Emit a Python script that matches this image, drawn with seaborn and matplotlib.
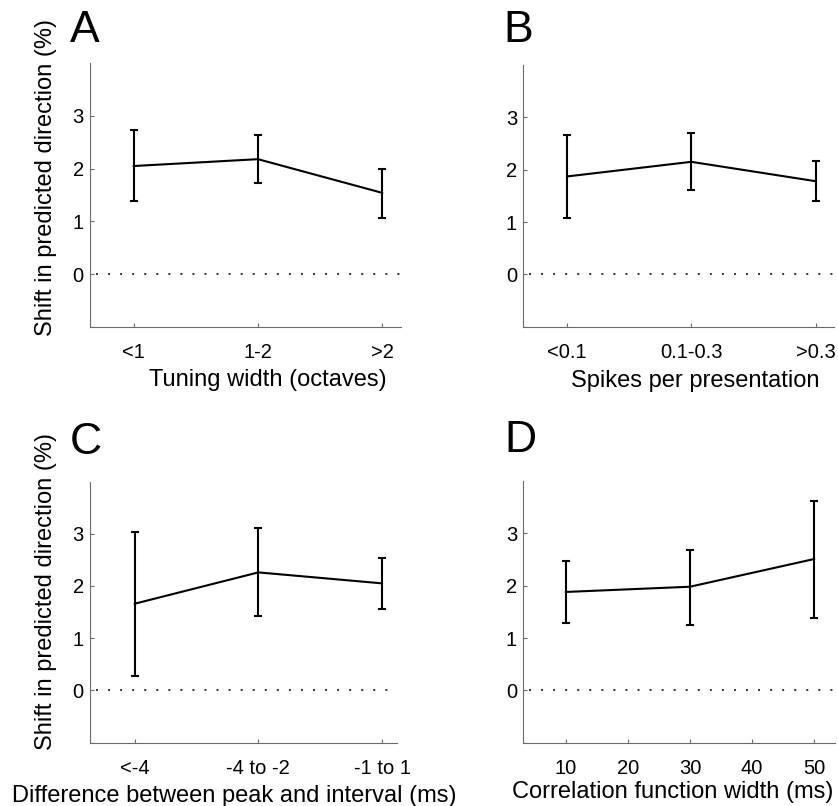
import numpy as np
import matplotlib
matplotlib.use("Agg")
import matplotlib.pyplot as plt
import seaborn as sns

# ---------------- data ----------------
a_cats = ["<1", "1-2", ">2"]
a_mean = [2.05, 2.18, 1.54]
a_low = [1.38, 1.72, 1.07]
a_high = [2.73, 2.63, 2.00]

b_cats = ["<0.1", "0.1-0.3", ">0.3"]
b_mean = [1.87, 2.15, 1.78]
b_low = [1.08, 1.61, 1.40]
b_high = [2.66, 2.71, 2.16]

c_cats = ["<-4", "-4 to -2", "-1 to 1"]
c_mean = [1.66, 2.26, 2.05]
c_low = [0.28, 1.42, 1.55]
c_high = [3.03, 3.11, 2.54]

d_x = [10, 30, 50]
d_mean = [1.88, 1.98, 2.51]
d_low = [1.28, 1.25, 1.39]
d_high = [2.47, 2.68, 3.62]
d_ticks = [10, 20, 30, 40, 50]

y_ticks = [0, 1, 2, 3]

ylabel_text = "Shift in predicted direction (%)"
xlabels = ["Tuning width (octaves)", "Spikes per presentation",
           "Difference between peak and interval (ms)",
           "Correlation function width (ms)"]
letters = ["A", "B", "C", "D"]

# ---------------- style ----------------
sns.set_theme(style="ticks")
plt.rcParams["font.family"] = ["Liberation Sans", "DejaVu Sans"]
plt.rcParams["axes.unicode_minus"] = False

W, H = 838, 806
fig = plt.figure(figsize=(W / 100, H / 100), dpi=100)
fig.patch.set_facecolor("white")


def px_axes(left, right, top, bottom):
    return fig.add_axes([left / W, 1 - bottom / H, (right - left) / W, (bottom - top) / H])


SPINE = "#6a6a6a"


def draw(ax, x, mean, low, high, xnum, xlim, xticks, xticklabels, xlabel,
         xlab_coords, ylabel=None, ylab_coords=None):
    sns.lineplot(x=x, y=mean, ax=ax, color="black", lw=1.5, errorbar=None,
                 sort=False)
    mean_a = np.asarray(mean)
    yerr = [mean_a - np.asarray(low), np.asarray(high) - mean_a]
    ax.errorbar(xnum, mean_a, yerr=yerr, fmt="none", ecolor="black",
                elinewidth=1.5, capsize=2.6, capthick=1.5)
    ax.axhline(0, color="#333333", lw=1.4, ls=(3.1, (1.0, 5.2)), zorder=0)
    ax.set_xlim(*xlim)
    ax.set_ylim(-1, 4)
    ax.set_yticks(y_ticks)
    ax.set_yticklabels([str(v) for v in y_ticks])
    ax.set_xticks(xticks)
    ax.set_xticklabels(xticklabels)
    for s in ["top", "right"]:
        ax.spines[s].set_visible(False)
    for s in ["left", "bottom"]:
        ax.spines[s].set_color(SPINE)
        ax.spines[s].set_linewidth(0.8)
    ax.tick_params(axis="both", direction="in", length=3, width=0.8,
                   color=SPINE, labelcolor="black", labelsize=14.5)
    ax.tick_params(axis="x", pad=12)
    ax.tick_params(axis="y", pad=4.5)
    ax.set_xlabel(xlabel, fontsize=17, color="black")
    ax.xaxis.set_label_coords(*xlab_coords)
    if ylabel:
        ax.set_ylabel(ylabel, fontsize=17, color="black")
        ax.yaxis.set_label_coords(*ylab_coords)
    else:
        ax.set_ylabel("")
    ax.set_facecolor("white")


axA = px_axes(90, 401, 63.3, 326.7)
axB = px_axes(523.3, 834.3, 65, 326.7)
axC = px_axes(90, 397, 481.5, 742.7)
axD = px_axes(523.3, 835, 481, 742.7)

draw(axA, a_cats, a_mean, a_low, a_high, np.arange(3), (-0.35, 2.15),
     np.arange(3), a_cats, xlabels[0], (0.571, -0.161),
     ylabel_text, (-0.106, 0.565))
draw(axB, b_cats, b_mean, b_low, b_high, np.arange(3), (-0.35, 2.15),
     np.arange(3), b_cats, xlabels[1], (0.552, -0.164))
draw(axC, c_cats, c_mean, c_low, c_high, np.arange(3), (-0.36, 2.12),
     np.arange(3), c_cats, xlabels[2], (0.471, -0.162),
     ylabel_text, (-0.106, 0.579))
draw(axD, d_x, d_mean, d_low, d_high, np.asarray(d_x), (3.18, 53.33),
     d_ticks, [str(t) for t in d_ticks], xlabels[3], (0.479, -0.145))

# panel letters (x, baseline in pixels)
letter_pos = [(70, 41.7), (503, 41.7), (69.5, 454), (504, 452)]
for letter, (lx, ly) in zip(letters, letter_pos):
    fig.text(lx / W, 1 - ly / H, letter, fontsize=32, ha="left",
             va="baseline", color="black")

fig.savefig("out.png", dpi=100, facecolor="white")
